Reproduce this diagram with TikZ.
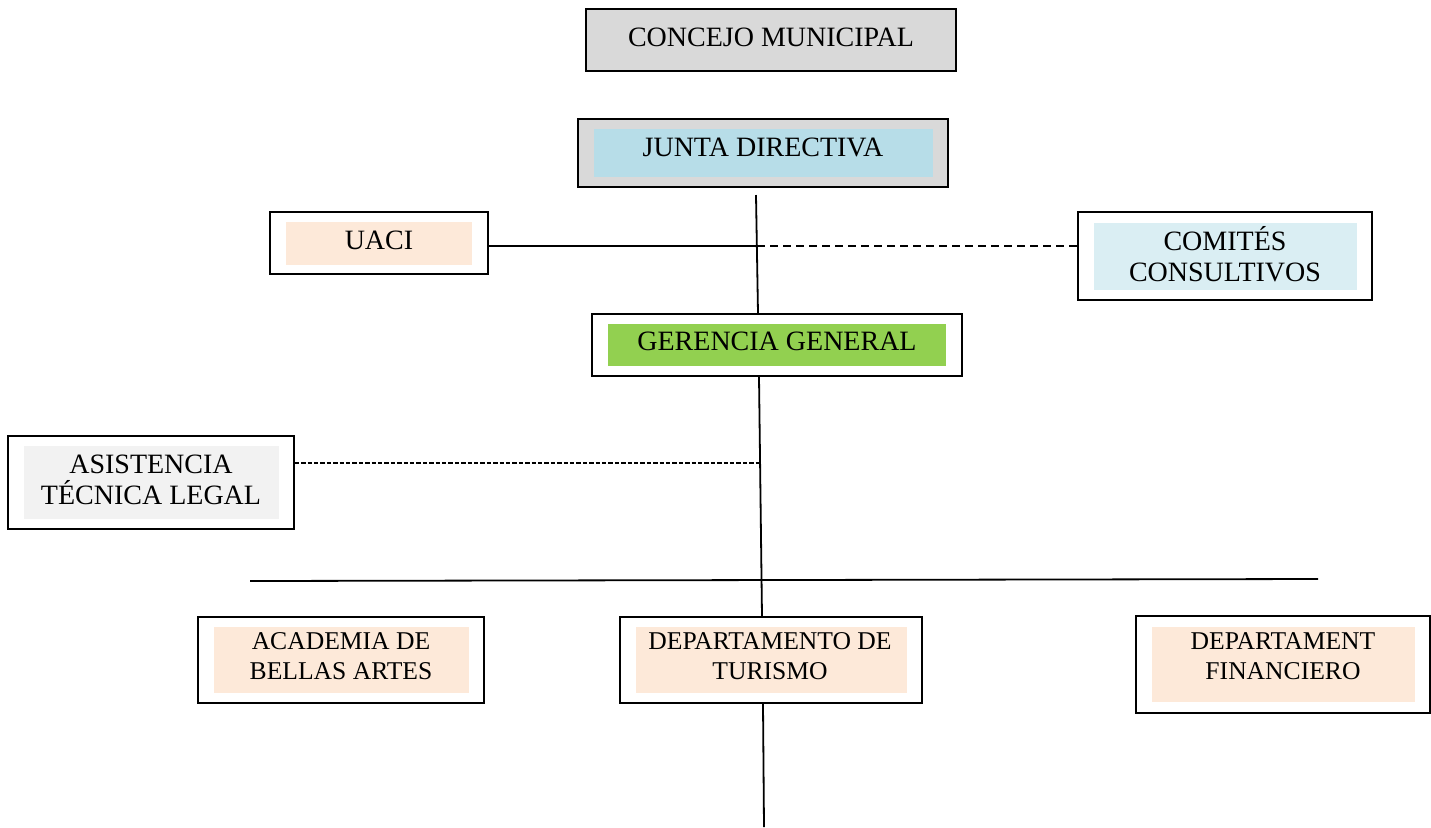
\documentclass[tikz,border=0pt]{standalone}
\usepackage{fontspec}
\setmainfont{Liberation Serif}
\definecolor{boxgray}{HTML}{D9D9D9}
\definecolor{juntablue}{HTML}{B7DDE8}
\definecolor{peach}{HTML}{FDE9D9}
\definecolor{paleblue}{HTML}{DAEEF3}
\definecolor{leafgreen}{HTML}{92D050}
\definecolor{palegray}{HTML}{F2F2F2}
\begin{document}
\begin{tikzpicture}[x=0.5pt, y=-0.5pt,
        outerbox/.style={draw=black, line width=0.75pt, fill=white, inner sep=0pt},
        innerbox/.style={inner sep=0pt},
        txt/.style={inner sep=0pt, align=center, font=\fontsize{14}{15.5}\selectfont},
        smalltxt/.style={txt, font=\fontsize{12.8}{15}\selectfont},
        link/.style={line width=0.9pt},
        dashlink/.style={line width=0.9pt, dash pattern=on 4pt off 2.5pt},
        finedash/.style={line width=0.9pt, dash pattern=on 2.2pt off 1pt}]
        \useasboundingbox (0,0) rectangle (1431,827);

        \node[outerbox, fill=boxgray, minimum width=185pt, minimum height=31pt] (concejo) at (771,40) {};
        \node[txt] (concejo-t) at (771,37) {CONCEJO MUNICIPAL};

        \node[outerbox, fill=boxgray, minimum width=185pt, minimum height=34pt] (junta) at (763,153) {};
        \node[innerbox, fill=juntablue, minimum width=169.5pt, minimum height=24pt] (junta-in) at (763.5,153) {};
        \node[txt] (junta-t) at (763,147) {JUNTA DIRECTIVA};

        \node[outerbox, minimum width=109pt, minimum height=31pt] (uaci) at (379,243) {};
        \node[innerbox, fill=peach, minimum width=93pt, minimum height=21.5pt] (uaci-in) at (379,243.5) {};
        \node[txt] (uaci-t) at (379,240) {UACI};

        \node[outerbox, minimum width=147pt, minimum height=44pt] (comites) at (1225,256) {};
        \node[innerbox, fill=paleblue, minimum width=131.5pt, minimum height=33.5pt] (comites-in) at (1225.5,256.5) {};
        \node[txt] (comites-t) at (1225,254) {COMITÉS\\CONSULTIVOS};

        \node[outerbox, minimum width=185pt, minimum height=31pt] (gerencia) at (777,345) {};
        \node[innerbox, fill=leafgreen, minimum width=169pt, minimum height=21pt] (gerencia-in) at (777,345) {};
        \node[txt] (gerencia-t) at (777,341) {GERENCIA GENERAL};

        \node[outerbox, minimum width=143pt, minimum height=46.5pt] (asistencia) at (151,482.5) {};
        \node[innerbox, fill=palegray, minimum width=127.5pt, minimum height=36.5pt] (asistencia-in) at (151.5,482.5) {};
        \node[txt] (asistencia-t) at (151,480) {ASISTENCIA\\TÉCNICA LEGAL};

        \node[outerbox, minimum width=143pt, minimum height=43pt] (academia) at (341,660) {};
        \node[innerbox, fill=peach, minimum width=127.5pt, minimum height=33pt] (academia-in) at (341.5,660) {};
        \node[smalltxt] (academia-t) at (341,656) {ACADEMIA DE\\BELLAS ARTES};

        \node[outerbox, minimum width=151pt, minimum height=43pt] (turismo) at (771,660) {};
        \node[innerbox, fill=peach, minimum width=135.5pt, minimum height=33pt] (turismo-in) at (771.5,660) {};
        \node[smalltxt] (turismo-t) at (770,656) {DEPARTAMENTO DE\\TURISMO};

        \node[outerbox, minimum width=147pt, minimum height=48.5pt] (financiero) at (1283,664.5) {};
        \node[innerbox, fill=peach, minimum width=131.5pt, minimum height=37.5pt] (financiero-in) at (1283.5,664.5) {};
        \node[smalltxt] (financiero-t) at (1283,656) {DEPARTAMENT\\FINANCIERO};

        \coordinate (jtop) at (756,195);
        \coordinate (jmid) at (757,246);
        \coordinate (trunk) at (760,463);
        \coordinate (busL) at (250,581);
        \coordinate (busR) at (1318,579);
        \coordinate (tail) at (763,827);

        \draw[link] (jtop) -- ([xshift=1pt]jtop |- gerencia.north);
        \draw[link] (uaci.east |- jmid) -- (jmid);
        \draw[dashlink] (jmid) -- (jmid -| comites.west);
        \draw[link] ([xshift=-0.5pt]trunk |- gerencia.south) -- ([xshift=1pt]trunk |- turismo.north);
        \draw[finedash] (asistencia.east |- trunk) -- (trunk);
        \draw[link] (busL) -- (busR);
        \draw[link] (tail |- turismo.south) -- ([xshift=0.5pt]tail);
    \end{tikzpicture}
\end{document}
